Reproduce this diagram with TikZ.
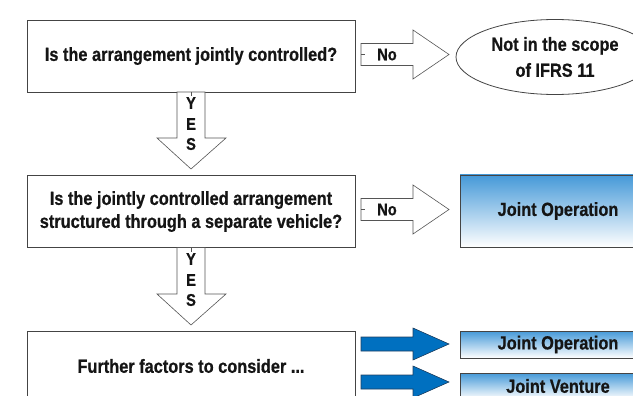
\documentclass[tikz,border=0pt]{standalone}
\usepackage{fontspec}
\setmainfont{Liberation Sans}[FakeStretch=0.86,BoldFeatures={FakeBold=0.6}]
\usetikzlibrary{shapes.geometric}
\definecolor{txt}{HTML}{151515}
\definecolor{edge}{HTML}{444444}
\definecolor{arredge}{HTML}{555555}
\definecolor{bluefill}{HTML}{0070C0}
\definecolor{blueedge}{HTML}{1F3F60}
\definecolor{gradtop}{HTML}{4599D8}
\begin{document}
\begin{tikzpicture}[x=1pt,y=-1pt,
  every node/.style={text=txt,font=\bfseries\fontsize{19}{23}\selectfont},
  qbox/.style={draw=edge,line width=0.8pt,fill=white,rectangle,minimum width=328pt,align=center,inner sep=0pt},
  resbox/.style={draw=edge,line width=0.8pt,rectangle,minimum width=196pt,top color=gradtop,bottom color=white,inner sep=0pt},
  hollow/.style={draw=arredge,line width=0.6pt,fill=white,line join=miter},
  solidarr/.style={draw=blueedge,line width=0.6pt,fill=bluefill,line join=miter},
  tick/.style={draw=arredge,line width=0.6pt},
  lbl/.style={inner sep=0pt,font=\bfseries\fontsize{17}{18}\selectfont}
]
\useasboundingbox (0,0) rectangle (633,396);
\clip (0,0) rectangle (633,396);

% question boxes
\node[qbox,minimum height=72pt] (q1) at (191,56) {Is the arrangement jointly controlled?};
\node[qbox,minimum height=72pt] (q2) at (191,211.5) {Is the jointly controlled arrangement\\structured through a separate vehicle?};
\node[qbox,minimum height=70pt] (q3) at (191,366) {Further factors to consider ...};

% results
\node[draw=edge,line width=0.8pt,ellipse,minimum width=198pt,minimum height=75pt,align=center,inner sep=0pt,
      font=\bfseries\fontsize{19}{26}\selectfont] (scope) at (555,57) {Not in the scope\\of IFRS 11};
\node[resbox,minimum height=72pt] (jo1) at (558,211) {Joint Operation};
\node[resbox,minimum height=27pt] (jo2) at (558,344.5) {Joint Operation};
\node[resbox,minimum height=26pt] (jv) at (558,386) {Joint Venture};

% "No" arrow 1
\draw[hollow] (361,43.5) -- (413,43.5) -- (413,30) -- (449,54.5) -- (413,79) -- (413,65.5) -- (361,65.5) -- cycle;
\draw[tick] (361,54.5) -- (365,54.5);
\node[lbl] (no1) at (387,54.5) {No};

% "No" arrow 2
\draw[hollow] (361,198.5) -- (413,198.5) -- (413,185) -- (449,209.5) -- (413,234) -- (413,220.5) -- (361,220.5) -- cycle;
\draw[tick] (361,209.5) -- (365,209.5);
\node[lbl] (no2) at (387,209.5) {No};

% YES arrow 1
\draw[hollow] (177,92) -- (177,138) -- (157,138) -- (191,169) -- (226,138) -- (205,138) -- (205,92) -- cycle;
\draw[tick] (191,92) -- (191,96);
\node[lbl] (y1) at (191,103) {Y};
\node[lbl] (e1) at (191,124) {E};
\node[lbl] (s1) at (191,144) {S};

% YES arrow 2
\draw[hollow] (177,247.5) -- (177,294) -- (157,294) -- (191,325) -- (226,294) -- (205,294) -- (205,247.5) -- cycle;
\draw[tick] (191,247.5) -- (191,251.5);
\node[lbl] (y2) at (191,259) {Y};
\node[lbl] (e2) at (191,280) {E};
\node[lbl] (s2) at (191,300) {S};

% blue arrows
\draw[solidarr] (361,337) -- (413,337) -- (413,328) -- (449,344) -- (413,360) -- (413,351) -- (361,351) -- cycle;
\draw[solidarr] (361,375) -- (413,375) -- (413,366) -- (449,382) -- (413,398) -- (413,389) -- (361,389) -- cycle;
\end{tikzpicture}
\end{document}
